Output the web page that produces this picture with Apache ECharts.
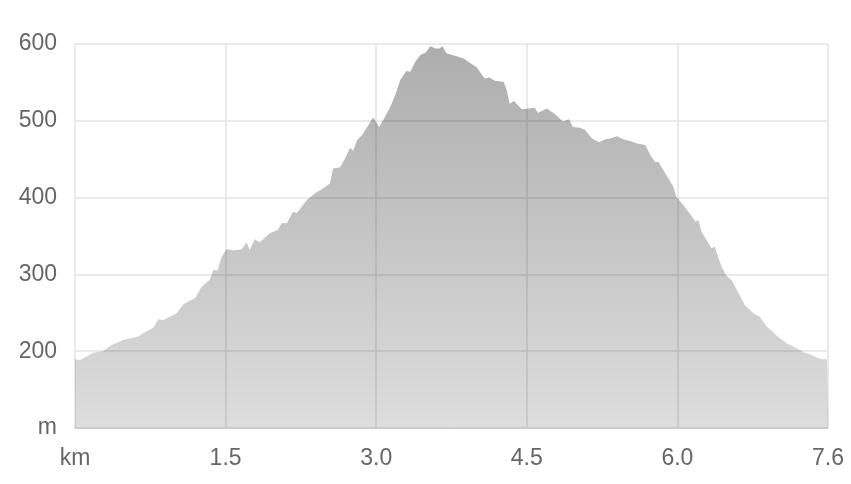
<!DOCTYPE html>
<html>
<head>
<meta charset="utf-8">
<script src="https://cdn.jsdelivr.net/npm/echarts@6/dist/echarts.min.js"></script>
<style>
html,body{margin:0;padding:0;background:#fff;}
#chart{width:851px;height:484px;}
</style>
</head>
<body>
<div id="chart"></div>
<script>
var distKm = [0.00,0.05,0.18,0.28,0.35,0.48,0.63,0.70,0.78,0.83,0.88,1.01,1.08,1.20,1.26,1.34,1.38,1.42,1.46,1.51,1.58,1.66,1.71,1.74,1.79,1.84,1.94,2.02,2.06,2.11,2.17,2.21,2.31,2.39,2.47,2.54,2.57,2.64,2.69,2.74,2.77,2.81,2.86,2.91,2.97,3.03,3.07,3.14,3.19,3.24,3.30,3.34,3.39,3.44,3.49,3.54,3.59,3.63,3.66,3.70,3.80,3.87,3.95,4.00,4.08,4.13,4.18,4.27,4.30,4.33,4.37,4.45,4.53,4.58,4.61,4.70,4.78,4.86,4.92,4.96,5.03,5.08,5.15,5.22,5.28,5.33,5.40,5.46,5.53,5.59,5.68,5.73,5.78,5.81,5.89,5.96,5.99,6.06,6.13,6.18,6.21,6.24,6.29,6.34,6.37,6.44,6.49,6.54,6.61,6.67,6.76,6.82,6.89,6.99,7.09,7.17,7.25,7.32,7.42,7.49,7.50];
var elevM = [189.5,188.5,198,200,207,214.6,219,225,230.6,241.5,240.6,249,261,269.7,284,292.7,305.7,305,323,333,331,332.7,341.8,331.8,345.7,342,353.5,357.8,367,366.5,381.6,380,397,405.6,412,418.6,438,439.5,451,465,461,475,481.5,492,504.6,492,501,518,533.6,553,565,564,577,585.7,588.7,597,594,594,597,588,584,581,574,569.6,555,556.5,552,551,540,522,526,515,516,517,510,516,509,499,502,492,491,488,477,472,476,477,480,476,473.7,470.7,468.5,455.5,446,446.7,429,414,401,390,378,368.6,370.8,355.6,344.8,334,336,310,298,292.7,275.4,260,249,245,232,220,210,205,199,196,190,189.5,189.5];
var xTickLabels = ['km','1.5','3.0','4.5','6.0','7.6'];
var yTickLabels = ['m','200','300','400','500','600'];

var pts = distKm.map(function(d,i){return [d, elevM[i]];});
var chart = echarts.init(document.getElementById('chart'), null, {renderer:'canvas'});
chart.setOption({
  animation:false,
  backgroundColor:'#fff',
  grid:{left:75,right:23,top:44,bottom:56,containLabel:false},
  xAxis:{
    type:'value',min:0,max:7.5,interval:1.5,
    axisLine:{show:true,lineStyle:{color:'#cccccc',width:1}},
    axisTick:{show:false},
    splitLine:{show:true,lineStyle:{color:'#e3e3e3',width:1.5}},
    axisLabel:{
      color:'#666',fontSize:23,fontFamily:'Liberation Sans, Arial, sans-serif',margin:19,
      formatter:function(v){return xTickLabels[Math.round(v/1.5)];}
    }
  },
  yAxis:{
    type:'value',min:100,max:600,interval:100,
    axisLine:{show:false},
    axisTick:{show:false},
    splitLine:{show:true,lineStyle:{color:'#e3e3e3',width:1.5}},
    axisLabel:{
      color:'#666',fontSize:23,fontFamily:'Liberation Sans, Arial, sans-serif',margin:18,
      padding:[0,0,9,0],
      formatter:function(v){return yTickLabels[Math.round((v-100)/100)];}
    }
  },
  series:[{
    type:'line',
    data:pts,
    showSymbol:false,
    smooth:false,
    lineStyle:{width:0},
    areaStyle:{
      origin:'start',
      color:new echarts.graphic.LinearGradient(0,0,0,1,[
        {offset:0,color:'rgba(0,0,0,0.46)'},
        {offset:1,color:'rgba(0,0,0,0.19)'}
      ])
    }
  }]
});
</script>
</body>
</html>
